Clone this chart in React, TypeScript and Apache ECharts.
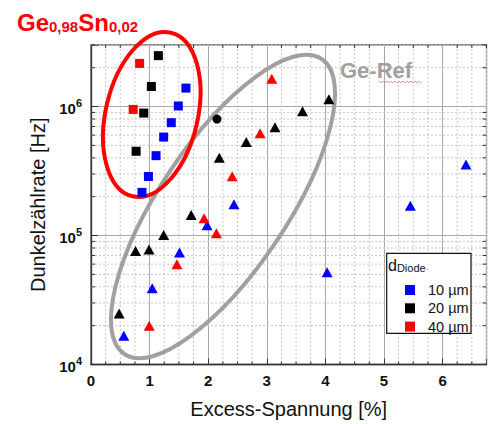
import React, { useEffect, useRef } from 'react';
import * as echarts from 'echarts';

const FONT = '"Liberation Sans", Arial, Helvetica, sans-serif';

// ---- data ----
const xTickLabels = ['0', '1', '2', '3', '4', '5', '6'];
const yTickExponents = [4, 5, 6];

// GeSn (squares)
const sqBlueX = [1.62, 1.49, 1.37, 1.24, 1.11, 0.98, 0.87];
const sqBlueY = [1.39e6, 1.01e6, 7.5e5, 5.8e5, 4.16e5, 2.87e5, 2.16e5];
const sqBlackX = [1.15, 1.03, 0.9, 0.77];
const sqBlackY = [2.48e6, 1.43e6, 8.9e5, 4.5e5];
const sqRedX = [0.83, 0.72];
const sqRedY = [2.16e6, 9.5e5];

// Ge reference (triangles)
const triBlueX = [6.4, 5.45, 4.03, 2.44, 1.98, 1.51, 1.045, 0.56];
const triBlueY = [3.56e5, 1.7e5, 5.2e4, 1.75e5, 1.2e5, 7.4e4, 3.9e4, 1.67e4];
const triBlackX = [4.06, 3.61, 3.14, 2.65, 2.19, 1.71, 1.24, 0.99, 0.76, 0.48];
const triBlackY = [1.14e6, 9.2e5, 6.9e5, 5.3e5, 4.0e5, 1.44e5, 1.01e5, 7.8e4, 7.6e4, 2.48e4];
const triRedX = [3.085, 2.886, 2.41, 1.93, 2.14, 1.466, 0.994];
const triRedY = [1.64e6, 6.22e5, 2.88e5, 1.36e5, 1.04e5, 6.0e4, 2.0e4];

// single black dot
const dotBlackX = [2.15];
const dotBlackY = [8.0e5];

const legendNames = ['10 µm', '20 µm', '40 µm'];
const colors = ['#0000ff', '#000000', '#ff0000'];

const zip = (xs: number[], ys: number[]) => xs.map((x, i) => [x, ys[i]]);

export default function App() {
  const ref = useRef<HTMLDivElement>(null);

  useEffect(() => {
    const chart = echarts.init(ref.current!, null, { renderer: 'svg' });

    // minor grid positions (axis structure)
    const xMinor: number[] = [];
    for (let i = 1; i <= 27; i++) {
      if (i % 4 !== 0) xMinor.push(i * 0.25);
    }
    const yMinor: number[] = [];
    [1e4, 1e5, 1e6].forEach((d) => {
      for (let m = 2; m <= 9; m++) {
        if (d * m <= 3e6) yMinor.push(d * m);
      }
    });

    // decorative spell-check squiggle under "Ref"
    const squiggle: number[][] = [];
    for (let i = 0; i <= 21; i++) squiggle.push([379 + i * 2, 82 + (i % 2 === 0 ? -0.8 : 0.8)]);

    const minorStyle = { stroke: '#c6c6c6', lineWidth: 1, lineDash: [2, 2] };
    const tickStyle = { stroke: '#333', lineWidth: 1 };

    const scatter = (name: string, data: number[][], symbol: string, size: any, color: string) => ({
      type: 'scatter',
      name,
      data,
      symbol,
      symbolSize: size,
      itemStyle: { color, opacity: 1 },
      z: 3,
      silent: true,
    });

    const option: any = {
      animation: false,
      backgroundColor: '#ffffff',
      grid: {
        left: 91,
        right: 9.5,
        top: 45,
        bottom: 59.5,
        show: true,
        borderColor: '#555',
        borderWidth: 1.3,
        containLabel: false,
      },
      legend: {
        data: legendNames.map((n) => ({ name: n, icon: 'rect' })),
        orient: 'vertical',
        left: 400,
        top: 277,
        itemWidth: 10,
        itemHeight: 10,
        itemGap: 2.3,
        selectedMode: false,
        z: 20,
        textStyle: {
          fontFamily: FONT,
          fontSize: 14.5,
          color: '#111',
          lineHeight: 16,
          padding: [0, 0, 0, 8],
        },
      },
      xAxis: {
        type: 'value',
        min: 0,
        max: 6.75,
        interval: 1,
        name: 'Excess-Spannung [%]',
        nameLocation: 'middle',
        nameGap: 34,
        nameTextStyle: { fontFamily: FONT, fontSize: 20, color: '#111' },
        axisLine: { show: true, lineStyle: { color: '#333', width: 1.3 } },
        axisTick: { show: true, inside: true, length: 6, lineStyle: { color: '#333' } },
        axisLabel: {
          margin: 8,
          fontFamily: FONT,
          fontSize: 15,
          fontWeight: 'bold',
          color: '#111',
          formatter: (v: number) => (Number.isInteger(v) && xTickLabels[v] !== undefined ? xTickLabels[v] : ''),
        },
        splitLine: { show: true, lineStyle: { color: '#a8a8a8', width: 1 } },
      },
      yAxis: {
        type: 'log',
        logBase: 10,
        min: 1e4,
        max: 3e6,
        name: 'Dunkelzählrate [Hz]',
        nameLocation: 'middle',
        nameGap: 31,
        nameTextStyle: { fontFamily: FONT, fontSize: 20, color: '#111' },
        axisLine: { show: true, lineStyle: { color: '#333', width: 1.3 } },
        axisTick: { show: true, inside: true, length: 7, lineStyle: { color: '#333' } },
        axisLabel: {
          margin: 9,
          formatter: (v: number) => {
            const e = Math.log10(v);
            const r = Math.round(e);
            if (Math.abs(e - r) > 1e-6 || yTickExponents.indexOf(r) < 0) return '';
            return `{b|10}{s|${r}}`;
          },
          rich: {
            b: { fontFamily: FONT, fontSize: 15, fontWeight: 'bold', color: '#111', lineHeight: 18, verticalAlign: 'bottom' },
            s: { fontFamily: FONT, fontSize: 11, fontWeight: 'bold', color: '#111', lineHeight: 10, verticalAlign: 'top' },
          },
        },
        splitLine: { show: true, lineStyle: { color: '#a8a8a8', width: 1 } },
      },
      series: [
        {
          type: 'custom',
          name: 'yMinor',
          silent: true,
          z: 1,
          data: yMinor.map((v) => [0, v]),
          renderItem: (params: any, api: any) => {
            const cs = params.coordSys;
            const y = api.coord([0, api.value(1)])[1];
            return {
              type: 'group',
              children: [
                { type: 'line', shape: { x1: cs.x, y1: y, x2: cs.x + cs.width, y2: y }, style: minorStyle },
                { type: 'line', shape: { x1: cs.x, y1: y, x2: cs.x + 4, y2: y }, style: tickStyle },
                { type: 'line', shape: { x1: cs.x + cs.width - 4, y1: y, x2: cs.x + cs.width, y2: y }, style: tickStyle },
              ],
            };
          },
        },
        {
          type: 'custom',
          name: 'xMinor',
          silent: true,
          z: 1,
          data: xMinor.map((v) => [v, 1e5]),
          renderItem: (params: any, api: any) => {
            const cs = params.coordSys;
            const x = api.coord([api.value(0), 1e5])[0];
            return {
              type: 'group',
              children: [
                { type: 'line', shape: { x1: x, y1: cs.y, x2: x, y2: cs.y + cs.height }, style: minorStyle },
                { type: 'line', shape: { x1: x, y1: cs.y + cs.height - 3, x2: x, y2: cs.y + cs.height }, style: tickStyle },
                { type: 'line', shape: { x1: x, y1: cs.y, x2: x, y2: cs.y + 3 }, style: tickStyle },
              ],
            };
          },
        },
        scatter(legendNames[0], zip(sqBlueX, sqBlueY), 'rect', 9, colors[0]),
        scatter(legendNames[1], zip(sqBlackX, sqBlackY), 'rect', 9, colors[1]),
        scatter(legendNames[2], zip(sqRedX, sqRedY), 'rect', 9, colors[2]),
        scatter(legendNames[0], zip(triBlueX, triBlueY), 'triangle', [11, 10], colors[0]),
        scatter(legendNames[1], zip(triBlackX, triBlackY), 'triangle', [11, 10], colors[1]),
        scatter(legendNames[2], zip(triRedX, triRedY), 'triangle', [11, 10], colors[2]),
        scatter(legendNames[1], zip(dotBlackX, dotBlackY), 'circle', 9, colors[1]),
      ],
      graphic: [
        {
          type: 'ellipse',
          x: 223,
          y: 206.5,
          rotation: (56.2 * Math.PI) / 180,
          shape: { cx: 0, cy: 0, rx: 177.5, ry: 63.8 },
          style: { fill: 'none', stroke: '#a39f9e', lineWidth: 4 },
          z: 2,
          silent: true,
        },
        {
          type: 'ellipse',
          x: 151.75,
          y: 114.5,
          rotation: (76.8 * Math.PI) / 180,
          shape: { cx: 0, cy: 0, rx: 84, ry: 46 },
          style: { fill: 'none', stroke: '#ff0000', lineWidth: 4 },
          z: 2,
          silent: true,
        },
        {
          type: 'text',
          x: 17,
          y: 8,
          z: 10,
          style: {
            text: '{m|Ge}{s|0,98}{m|Sn}{s|0,02}',
            verticalAlign: 'top',
            rich: {
              m: { fontFamily: FONT, fontSize: 24, fontWeight: 'bold', fill: '#ff0000', lineHeight: 26, verticalAlign: 'bottom' },
              s: { fontFamily: FONT, fontSize: 15, fontWeight: 'bold', fill: '#ff0000', lineHeight: 8, verticalAlign: 'bottom' },
            },
          },
        },
        {
          type: 'text',
          x: 340,
          y: 70.5,
          z: 10,
          style: {
            text: 'Ge-Ref',
            fontFamily: FONT,
            fontSize: 22,
            fontWeight: 'bold',
            fill: '#a39f9e',
            verticalAlign: 'middle',
          },
        },
        {
          type: 'polyline',
          z: 10,
          silent: true,
          shape: { points: squiggle },
          style: { stroke: '#ee7777', lineWidth: 0.8, fill: 'none' },
        },
        {
          type: 'rect',
          shape: { x: 386.7, y: 253.3, width: 84.3, height: 80 },
          style: { fill: '#ffffff', stroke: '#111', lineWidth: 1.2 },
          z: 15,
        },
        {
          type: 'text',
          x: 388,
          y: 257,
          z: 16,
          style: {
            text: '{d|d}{s|Diode}{p|·}',
            verticalAlign: 'top',
            rich: {
              d: { fontFamily: FONT, fontSize: 16, fill: '#111', lineHeight: 16, verticalAlign: 'bottom' },
              s: { fontFamily: FONT, fontSize: 11, fill: '#111', lineHeight: 6, verticalAlign: 'bottom' },
              p: { fontFamily: FONT, fontSize: 8, fill: '#111', lineHeight: 12, verticalAlign: 'bottom' },
            },
          },
        },
      ],
    };

    chart.setOption(option);
    return () => chart.dispose();
  }, []);

  return (
    <div
      ref={ref}
      style={{ position: 'fixed', left: 0, top: 0, width: 496, height: 424, background: '#ffffff' }}
    />
  );
}
